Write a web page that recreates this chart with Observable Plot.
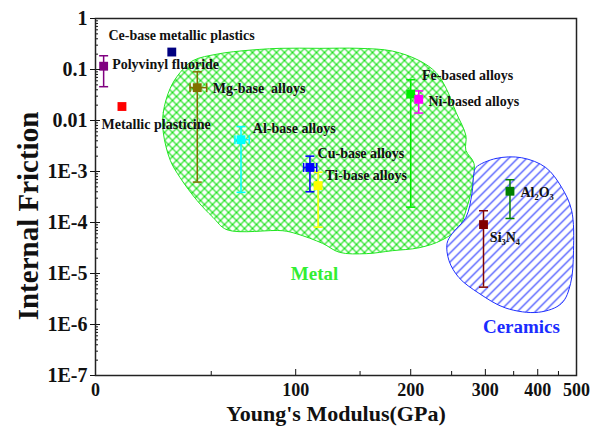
<!DOCTYPE html>
<html><head><meta charset="utf-8">
<script src="https://cdn.jsdelivr.net/npm/d3@7"></script>
<script src="https://cdn.jsdelivr.net/npm/@observablehq/plot@0.6"></script>
<style>
html,body{margin:0;padding:0;background:#fff;}
#chart svg{display:block;}
</style>
</head><body>
<svg width="0" height="0" style="position:absolute">
<defs>
<pattern id="metalHatch" patternUnits="userSpaceOnUse" width="8" height="8">
<path d="M-1,-1 L9,9 M9,-1 L-1,9" stroke="#14e014" stroke-width="1.2" fill="none"/>
</pattern>
<pattern id="ceramicHatch" patternUnits="userSpaceOnUse" width="9" height="9">
<rect width="9" height="9" fill="#fff"/>
<path d="M-1,10 L10,-1 M-1,1 L1,-1 M8,10 L10,8" stroke="#1f30ff" stroke-width="1.1" fill="none"/>
</pattern>
</defs></svg>
<div id="chart"></div>
<script>
// ---- data ----
const names = ["Polyvinyl fluoride","Ce-base metallic plastics","Metallic plasticine","Mg-base alloys","Al-base alloys","Cu-base alloys","Ti-base alloys","Fe-based alloys","Ni-based alloys","Al2O3","Si3N4"];
const modulus      = [3, 31, 10, 43, 66, 110, 116, 200, 209, 343, 297];
const modulusLow   = [null, null, null, 39.5, 62.6, 105.5, null, null, null, null, null];
const modulusHigh  = [null, null, null, 47.7, 70.7, 115, null, null, null, null, null];
const friction     = [0.116, 0.22, 0.0188, 0.044, 0.0042, 0.0012, 5.3e-4, 0.033, 0.026, 4.1e-4, 9.1e-5];
const frictionLow  = [0.046, null, null, 6.2e-4, 3.9e-4, 4.0e-4, 8.1e-5, 2.0e-4, 0.014, 1.2e-4, 5.4e-6];
const frictionHigh = [0.186, null, null, 0.09, 0.0076, 0.002, 9.7e-4, 0.063, 0.038, 6.9e-4, 1.7e-4];
const pointColors  = ["#800080","#000080","#ff0000","#807000","#00ffff","#0000ff","#ffff00","#00ee00","#ff00ff","#008000","#800000"];

const labelTexts    = ["Ce-base metallic plastics","Polyvinyl fluoride","Metallic plasticine","Mg-base\u00A0 alloys","Al-base alloys","Cu-base alloys","Ti-base alloys","Fe-based alloys","Ni-based alloys","Al\u2082O\u2083","Si\u2083N\u2084"];
const labelModulus  = [4.8, 6.2, 2.2, 50.8, 72.8, 115.6, 121.4, 212.7, 220.5, 363.4, 307.4];
const labelFriction = [0.46, 0.125, 0.0082, 0.042, 0.007, 0.0023, 8.4e-4, 0.076, 0.0236, 3.9e-4, 5.1e-5];

const regionNames    = ["Metal", "Ceramics"];
const regionModulus  = [113.4, 365.3];
const regionFriction = [1.0e-5, 8.9e-7];
const regionColors   = ["#33ee33", "#1a2cff"];

const metalModulus  = [27.2, 27.2, 30.3, 34.8, 41.0, 53.0, 65.4, 89.4, 117, 149, 180.5, 209.5, 229.8, 242.6, 256, 270, 270, 282, 279, 270, 260, 237, 209.5, 180.5, 155.7, 132.6, 119.3, 100.7, 91.3, 58.3, 50.9, 42.9, 34.8, 30.3];
const metalFriction = [5.8e-3, 1.45e-2, 4.3e-2, 8.7e-2, 0.15, 0.2, 0.23, 0.26, 0.26, 0.26, 0.23, 0.15, 0.087, 0.043, 0.0145, 0.0051, 0.0026, 0.00145, 4.9e-4, 1.7e-4, 7.9e-5, 4.5e-5, 3.2e-5, 2.8e-5, 2.45e-5, 2.6e-5, 3.9e-5, 6.0e-5, 6.9e-5, 7.2e-5, 1.26e-4, 2.7e-4, 7.6e-4, 1.66e-3];

const ceramicModulus  = [285.1, 317.6, 365.9, 418.3, 458.2, 485.7, 491.2, 482.7, 458.2, 402.2, 335.3, 289.7, 260.1, 246.5, 243.9, 250.5, 270.1, 279.0, 282.0];
const ceramicFriction = [1.2e-3, 1.8e-3, 1.86e-3, 1.2e-3, 4.9e-4, 1.74e-4, 2.8e-5, 6.3e-6, 2.6e-6, 1.74e-6, 2.1e-6, 4.1e-6, 8.3e-6, 1.78e-5, 3.9e-5, 6.0e-5, 1.26e-4, 3.7e-4, 9.1e-4];

const xTicks = [0, 100, 200, 300, 400, 500];
const xTickLabels = ["0", "100", "200", "300", "400", "500"];
const xMinorTicks = [50, 150, 250, 350, 450];
const yTicks = [1, 0.1, 0.01, 1e-3, 1e-4, 1e-5, 1e-6, 1e-7];
const yTickLabels = ["1", "0.1", "0.01", "1E-3", "1E-4", "1E-5", "1E-6", "1E-7"];

// ---- build tables ----
const pts = names.map((n, i) => ({name: n, E: modulus[i], Elo: modulusLow[i], Ehi: modulusHigh[i], F: friction[i], Flo: frictionLow[i], Fhi: frictionHigh[i], col: pointColors[i]}));
const yErr = pts.filter(d => d.Flo != null);
const xErr = pts.filter(d => d.Elo != null);
const labels = labelTexts.map((t, i) => ({t, E: labelModulus[i], F: labelFriction[i]}));
const regions = regionNames.map((t, i) => ({t, E: regionModulus[i], F: regionFriction[i], col: regionColors[i]}));
const metal = metalModulus.map((E, i) => ({E, F: metalFriction[i]}));
const ceramic = ceramicModulus.map((E, i) => ({E, F: ceramicFriction[i]}));

const yMinor = [];
for (let k = -7; k < 0; k++) for (let m = 2; m <= 9; m++) yMinor.push(m * Math.pow(10, k));

// Young's modulus axis uses an offset-reciprocal style transform
const OFFSET = 270;
const fx = e => e / (e + OFFSET);
const X = d => fx(d.E);

const xLabelMap = new Map(xTicks.map((t, i) => [fx(t), xTickLabels[i]]));
const yLabelMap = new Map(yTicks.map((t, i) => [t, yTickLabels[i]]));

const hcap = {draw(ctx, size) { const r = Math.sqrt(size / Math.PI); ctx.moveTo(-r, 0); ctx.lineTo(r, 0); }};
const vcap = {draw(ctx, size) { const r = Math.sqrt(size / Math.PI); ctx.moveTo(0, -r); ctx.lineTo(0, r); }};

const font = "'Liberation Serif','Times New Roman',Times,serif";

const chart = Plot.plot({
  width: 590, height: 426,
  marginLeft: 95, marginRight: 14, marginTop: 18, marginBottom: 51,
  style: {fontFamily: font, fontWeight: "bold", background: "#fff", color: "#111"},
  x: {type: "linear", domain: [fx(0), fx(500)], axis: null},
  y: {type: "log", domain: [1e-7, 1], axis: null},
  color: {type: "identity"},
  marks: [
    Plot.line(metal, {x: X, y: "F", curve: "catmull-rom-closed", fill: "url(#metalHatch)", stroke: "#22e622", strokeWidth: 1}),
    Plot.line(ceramic, {x: X, y: "F", curve: "catmull-rom-closed", fill: "url(#ceramicHatch)", stroke: "#1f30ff", strokeWidth: 1}),
    // vertical error bars
    Plot.ruleX(yErr, {x: X, y1: "Flo", y2: "Fhi", stroke: "col", strokeWidth: 1.5}),
    Plot.dot(yErr, {x: X, y: "Flo", symbol: hcap, r: 4.5, fill: "none", stroke: "col", strokeWidth: 1.5}),
    Plot.dot(yErr, {x: X, y: "Fhi", symbol: hcap, r: 4.5, fill: "none", stroke: "col", strokeWidth: 1.5}),
    // horizontal error bars
    Plot.ruleY(xErr, {y: "F", x1: d => fx(d.Elo), x2: d => fx(d.Ehi), stroke: "col", strokeWidth: 1.5}),
    Plot.dot(xErr, {x: d => fx(d.Elo), y: "F", symbol: vcap, r: 4.5, fill: "none", stroke: "col", strokeWidth: 1.5}),
    Plot.dot(xErr, {x: d => fx(d.Ehi), y: "F", symbol: vcap, r: 4.5, fill: "none", stroke: "col", strokeWidth: 1.5}),
    // points
    Plot.dot(pts, {x: X, y: "F", symbol: "square", r: 5, fill: "col", stroke: "none"}),
    // labels
    Plot.text(labels, {x: X, y: "F", text: "t", textAnchor: "start", fontSize: 14, fill: "#111"}),
    Plot.text(regions, {x: X, y: "F", text: "t", textAnchor: "middle", fontSize: 19, fill: "col"}),
    // axes
    Plot.axisY({ticks: yMinor, tickSize: -3, tickFormat: () => "", label: null}),
    Plot.axisY({ticks: yTicks, tickSize: -5, tickFormat: () => "", label: null}),
    Plot.axisY({ticks: yTicks, tickSize: 5, tickPadding: 3, tickFormat: d => yLabelMap.get(d), fontSize: 20, label: null}),
    Plot.axisX({ticks: xMinorTicks.map(fx), tickSize: -4, tickFormat: () => "", label: null}),
    Plot.axisX({ticks: xTicks.map(fx), tickSize: -6, tickFormat: () => "", label: null}),
    Plot.axisX({ticks: xTicks.map(fx), tickSize: 0, tickPadding: 8, tickFormat: d => xLabelMap.get(d), fontSize: 18, label: null}),
    Plot.frame({stroke: "#222", strokeWidth: 1.5}),
    Plot.text(["Internal Friction"], {frameAnchor: "left", textAnchor: "middle", lineAnchor: "middle", rotate: -90, dx: -67, dy: 19, fontSize: 29, fill: "#111"}),
    Plot.text(["Young's Modulus(GPa)"], {frameAnchor: "bottom", textAnchor: "middle", lineAnchor: "middle", dy: 38, fontSize: 22, fill: "#111"})
  ]
});
document.getElementById("chart").appendChild(chart);
</script>
</body></html>
